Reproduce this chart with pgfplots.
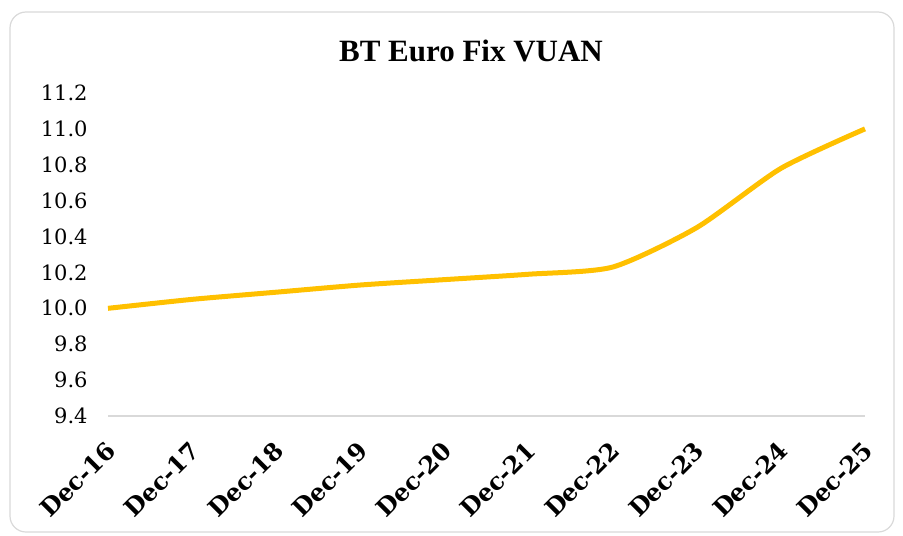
\documentclass[border=0pt]{standalone}
\usepackage{fontspec}
\setmainfont{DejaVu Serif}
\newfontfamily\titlefont{Liberation Serif}
\usepackage{pgfplots}
\pgfplotsset{compat=1.18}
\definecolor{lineyellow}{HTML}{FFC000}
\definecolor{axisgray}{HTML}{D9D9D9}
\definecolor{framegray}{HTML}{D9D9D9}

\begin{document}
\begin{tikzpicture}
% page size, 903x535 px at 0.5pt per px
\path (0,0) rectangle (451.5pt,-267.5pt);
\draw[framegray, line width=0.6pt, rounded corners=8pt] (5pt,-6pt) rectangle (447pt,-266pt);
\node[font=\titlefont\bfseries\fontsize{15.5}{18}\selectfont] at (235.5pt,-25.5pt) {BT Euro Fix VUAN};
\begin{axis}[
    at={(54pt,-208pt)},
    anchor=south west,
    scale only axis,
    width=378.5pt,
    height=161.5pt,
    xmin=0, xmax=9,
    ymin=9.4, ymax=11.2,
    axis lines*=left,
    axis line style={-},
    y axis line style={draw=none},
    x axis line style={draw=axisgray, line width=0.75pt},
    tick style={draw=none},
    xtick={0,1,...,9},
    xticklabels={Dec-16,Dec-17,Dec-18,Dec-19,Dec-20,Dec-21,Dec-22,Dec-23,Dec-24,Dec-25},
    xticklabel style={
        font=\bfseries\fontsize{12}{14}\selectfont,
        inner sep=0pt,
        xshift=1.5pt, yshift=-15pt,
        rotate=45, anchor=east
    },
    ytick={9.4,9.6,9.8,10.0,10.2,10.4,10.6,10.8,11.0,11.2},
    yticklabel style={
        font=\fontsize{10.5}{12}\selectfont,
        inner sep=0pt, xshift=-10pt,
        /pgf/number format/fixed,
        /pgf/number format/fixed zerofill,
        /pgf/number format/precision=1,
        /pgf/number format/assume math mode=true
    },
    clip=false,
]
\addplot[lineyellow, line width=2.5pt, smooth, tension=0.4]
coordinates {
    (0,10.00)
    (1,10.05)
    (2,10.09)
    (3,10.13)
    (4,10.16)
    (5,10.19)
    (6,10.23)
    (7,10.45)
    (8,10.78)
    (9,11.00)
};
\end{axis}
\end{tikzpicture}
\end{document}
